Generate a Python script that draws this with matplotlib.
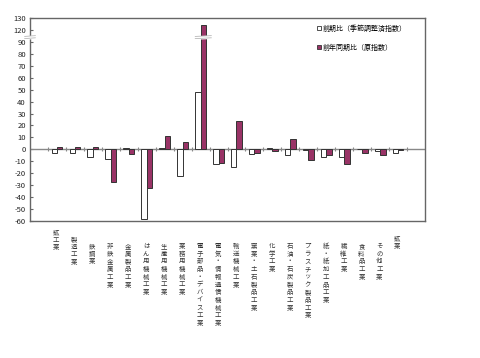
import matplotlib
matplotlib.use('Agg')
import matplotlib.pyplot as plt
import matplotlib.transforms as mtransforms
from matplotlib.patches import Patch

plt.rcParams['font.family'] = ['Noto Sans CJK JP', 'DejaVu Sans']

# data
categories = ['鉱工業', '製造工業', '鉄鋼業', '非鉄金属工業', '金属製品工業',
              'はん用機械工業', '生産用機械工業', '業務用機械工業',
              '電子部品・デバイス工業', '電気・情報通信機械工業', '輸送機械工業',
              '窯業・土石製品工業', '化学工業', '石油・石炭製品工業',
              'プラスチック製品工業', '紙・紙加工品工業', '繊維工業',
              '食料品工業', 'その他工業', '鉱業']
qoq = [-3.3, -3.3, -6.5, -8.0, 1.2, -58.0, 1.0, -22.3, 48.0, -12.0,
       -14.8, -4.0, 1.4, -5.0, -0.5, -6.2, -6.5, 0.5, -1.4, -3.0]
yoy = [2.0, 2.0, 2.0, -27.2, -4.2, -32.5, 11.3, 6.2, 124.5, -11.2,
       23.8, -3.2, -1.5, 8.3, -9.0, -5.0, -12.5, -3.2, -4.6, -0.5]
ytick_values = [-60, -50, -40, -30, -20, -10, 0, 10, 20, 30, 40, 50, 60, 70, 80, 90, 120, 130]
legend_labels = ['前期比（季節調整済指数）', '前年同期比（原指数）']

BREAK = 20  # values above 100 are shifted down by this (broken axis)


def disp(v):
    return v - BREAK if v > 100 else v


fig = plt.figure(figsize=(4.8, 3.58), dpi=100)
ax = fig.add_axes([30 / 480, 1 - 221 / 358, 395 / 480, 203 / 358])

x = list(range(len(categories)))
w = 0.3
ax.bar([i - w / 2 for i in x], [disp(v) for v in qoq], w, color='white',
       edgecolor='#333333', linewidth=0.7, zorder=3)
ax.bar([i + w / 2 for i in x], [disp(v) for v in yoy], w, color='#993366',
       edgecolor='#333333', linewidth=0.7, zorder=3)

# zero line with category separators
ax.axhline(0, color='#888888', lw=1.0, zorder=2)
ax.plot([i - 0.5 for i in range(len(categories) + 1)], [0] * (len(categories) + 1),
        ls='none', marker='|', ms=3, mew=0.8, color='#888888', zorder=2)

ax.set_xlim(-1.5, len(categories) + 0.5)
ax.set_ylim(-60, 110)
ax.set_xticks([])
ax.set_yticks([disp(v) if v <= 90 else v - BREAK for v in ytick_values])
ax.set_yticklabels([str(v) for v in ytick_values])
ax.tick_params(axis='y', direction='in', length=2, width=0.8, color='#666666',
               labelsize=5.5, pad=3, labelcolor='#222222')
for s in ax.spines.values():
    s.set_color('#666666')
    s.set_linewidth(1.0)


# axis break marks
def break_mark(xc, half):
    y0 = 93.0
    ax.fill_between([xc - half, xc + half], [y0 - 0.2, y0 + 0.4], [y0 + 1.6, y0 + 2.2],
                    color='white', zorder=5, clip_on=False)
    ax.plot([xc - half, xc + half], [y0 - 0.2, y0 + 0.4], color='#aaaaaa', lw=0.5,
            zorder=6, clip_on=False)
    ax.plot([xc - half, xc + half], [y0 + 1.6, y0 + 2.2], color='#aaaaaa', lw=0.5,
            zorder=6, clip_on=False)


break_mark(-1.5, 0.3)
break_mark(8 + w / 2, 0.45)

# vertical category labels
trans = mtransforms.blended_transform_factory(ax.transData, ax.transAxes)
start = {0: 7, 1: 14, 19: 13}
for i, name in enumerate(categories):
    top = start.get(i, 21)
    for j, ch in enumerate(name):
        ax.annotate(ch, xy=(i, 0), xycoords=trans,
                    xytext=(-0.5, -(top + j * 7.7) * 0.72), textcoords='offset points',
                    ha='center', va='top', fontsize=4.6, color='#333333',
                    annotation_clip=False)

handles = [Patch(facecolor='white', edgecolor='#333333', linewidth=0.6),
           Patch(facecolor='#993366', edgecolor='#333333', linewidth=0.6)]
fig.legend(handles, legend_labels, loc='upper left', bbox_to_anchor=(314 / 480, 1 - 21 / 358),
           frameon=False, fontsize=5, handlelength=0.5, handleheight=0.5,
           handletextpad=0.2, labelspacing=1.6, borderpad=0)

fig.savefig('out.png', dpi=100)
